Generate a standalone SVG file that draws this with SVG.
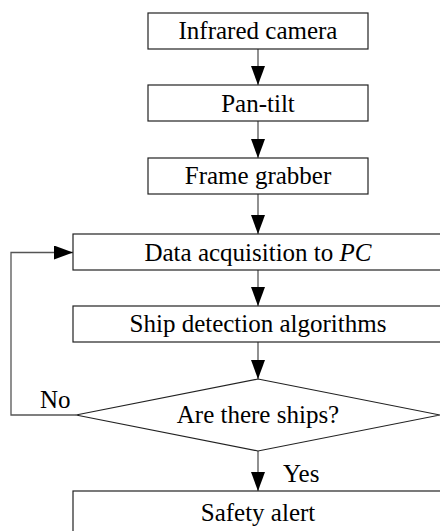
<svg xmlns="http://www.w3.org/2000/svg" width="440" height="531" viewBox="0 0 440 531">
<style>
.box{fill:#fff;stroke:#222;stroke-width:1.2}
.t{font-family:"Liberation Serif","Times New Roman",serif;font-size:25px;fill:#000;text-anchor:middle}
.lbl{font-family:"Liberation Serif","Times New Roman",serif;font-size:25px;fill:#000}
.c{fill:none;stroke:#555;stroke-width:1.3}
</style>
<defs>
<marker id="ah" markerUnits="userSpaceOnUse" markerWidth="19" markerHeight="14" refX="19" refY="7" orient="auto">
<path d="M0,0 L19,7 L0,14 z" fill="#000"/>
</marker>
</defs>
<rect width="440" height="531" fill="#fff"/>
<g id="connectors">
<line class="c" x1="258" y1="49" x2="258" y2="85" marker-end="url(#ah)"/>
<line class="c" x1="258" y1="121" x2="258" y2="158" marker-end="url(#ah)"/>
<line class="c" x1="258" y1="194" x2="258" y2="234" marker-end="url(#ah)"/>
<line class="c" x1="258" y1="270" x2="258" y2="306" marker-end="url(#ah)"/>
<line class="c" x1="258" y1="342" x2="258" y2="379" marker-end="url(#ah)"/>
<line class="c" x1="258" y1="451" x2="258" y2="491" marker-end="url(#ah)"/>
<polyline class="c" points="76,415 11,415 11,252.5 73,252.5" marker-end="url(#ah)"/>
<text class="lbl" x="40" y="408">No</text>
<text class="lbl" x="283" y="482">Yes</text>
</g>
<g id="n1"><rect class="box" x="148" y="13" width="220" height="36"/><text class="t" x="258" y="39">Infrared camera</text></g>
<g id="n2"><rect class="box" x="148" y="85" width="220" height="36"/><text class="t" x="258" y="111.5">Pan-tilt</text></g>
<g id="n3"><rect class="box" x="148" y="158" width="220" height="36"/><text class="t" x="258" y="184">Frame grabber</text></g>
<g id="n4"><rect class="box" x="73" y="234" width="370" height="36"/><text class="t" x="258" y="260.5">Data acquisition to <tspan font-style="italic">PC</tspan></text></g>
<g id="n5"><rect class="box" x="73" y="306" width="370" height="36"/><text class="t" x="258" y="332">Ship detection algorithms</text></g>
<g id="n6"><polygon class="box" points="258,379 440,415 258,451 76,415"/><text class="t" x="258" y="423">Are there ships?</text></g>
<g id="n7"><rect class="box" x="73" y="491" width="370" height="50"/><text class="t" x="258" y="521">Safety alert</text></g>
</svg>
